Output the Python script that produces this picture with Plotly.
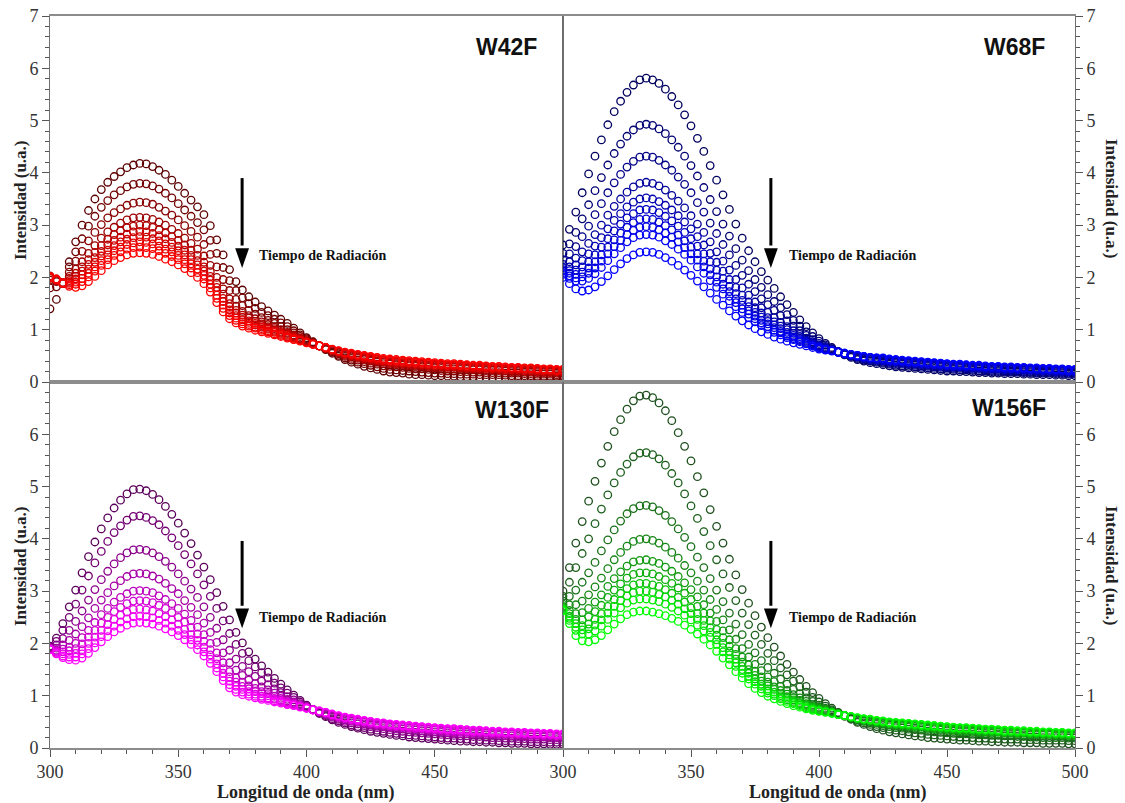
import plotly.graph_objects as go

# Emission wavelength grid (nm)
WAVELENGTH_NM = [
    300, 302.5, 305, 307.5, 310, 312.5, 315, 317.5, 320, 322.5,
    325, 327.5, 330, 332.5, 335, 337.5, 340, 342.5, 345, 347.5,
    350, 352.5, 355, 357.5, 360, 362.5, 365, 367.5, 370, 372.5,
    375, 377.5, 380, 382.5, 385, 387.5, 390, 392.5, 395, 397.5,
    400, 402.5, 405, 407.5, 410, 412.5, 415, 417.5, 420, 422.5,
    425, 427.5, 430, 432.5, 435, 437.5, 440, 442.5, 445, 447.5,
    450, 452.5, 455, 457.5, 460, 462.5, 465, 467.5, 470, 472.5,
    475, 477.5, 480, 482.5, 485, 487.5, 490, 492.5, 495, 497.5, 500,
]

# Fluorescence intensity, in hundredths of u.a.; first row = start of irradiation
W42F = [
    [140,158,190,230,268,300,328,350,368,382, 393,402,410,415,418,417,412,405,397,386,
     374,361,348,335,320,299,272,243,215,192, 176,163,153,144,136,128,120,112,103,94,
     85,77,69,62,55,49,43,38,34,30, 27,24,21,19,18,17,15,14,14,13,
     12,12,11,11,10,10,10,9,9,9, 9,8,8,8,8,8,7,7,7,7,7],
    [180,182,190,220,249,274,298,317,334,347, 358,366,373,378,380,379,375,369,361,352,
     341,329,317,305,291,271,246,219,194,175, 161,150,141,133,127,120,113,106,98,90,
     83,76,69,63,57,51,46,42,38,35, 32,29,26,24,23,22,21,20,19,18,
     17,17,16,16,15,15,15,14,14,14, 14,13,12,12,12,12,11,11,11,11,11],
    [195,192,189,210,231,250,270,286,301,314, 324,331,338,342,344,343,340,334,327,319,
     310,299,288,277,263,244,220,196,175,158, 146,137,130,123,118,112,106,100,94,87,
     81,75,69,64,58,54,49,45,42,39, 36,34,31,30,29,28,26,25,25,24,
     23,22,21,21,20,20,19,19,18,18, 18,17,17,17,16,16,15,15,15,14,14],
    [198,194,189,202,216,230,246,261,275,287, 296,304,310,314,315,314,311,306,300,292,
     284,275,265,254,241,223,200,178,159,145, 135,127,121,115,110,105,100,95,90,84,
     79,74,69,64,60,56,51,48,45,43, 40,38,35,34,33,32,31,30,29,28,
     27,26,25,25,24,24,23,23,22,22, 22,21,20,20,19,19,18,18,18,17,17],
    [201,195,188,198,208,220,234,248,261,273, 282,289,295,298,300,299,296,291,285,278,
     271,262,252,242,229,211,189,168,150,137, 128,122,116,111,106,102,97,93,88,83,
     78,74,69,65,61,57,53,50,47,44, 42,40,38,36,35,34,33,32,31,30,
     29,29,28,28,27,26,25,25,24,23, 23,22,22,22,21,21,20,19,19,19,19],
    [203,197,190,194,202,212,225,238,250,262, 271,277,283,287,288,287,284,280,274,267,
     260,252,242,232,220,202,181,160,144,132, 124,117,112,108,103,99,95,91,86,82,
     77,73,69,65,61,57,54,51,48,46, 44,41,39,38,37,36,35,34,33,32,
     31,30,29,29,28,27,27,26,26,25, 25,24,23,23,22,22,21,21,21,20,20],
    [199,195,188,191,197,205,216,229,241,252, 261,268,273,276,278,277,274,270,264,258,
     251,243,234,224,212,195,174,154,138,127, 119,114,109,105,101,97,93,89,85,81,
     77,73,69,65,62,58,54,52,50,47, 45,43,41,39,38,37,36,35,34,33,
     32,32,31,31,30,29,28,28,27,26, 26,25,24,24,24,24,23,22,22,21,21],
    [202,197,189,189,191,198,208,220,232,243, 251,258,263,266,268,267,264,260,254,249,
     242,234,226,216,204,187,166,147,132,122, 115,110,105,102,98,95,91,87,84,80,
     76,73,69,66,62,59,55,53,51,48, 46,44,42,41,40,39,38,37,36,35,
     34,33,32,32,31,30,29,29,28,27, 27,26,26,26,25,25,24,23,23,22,22],
    [201,196,190,186,187,192,201,212,223,234, 242,249,254,257,258,257,255,251,246,240,
     234,226,218,209,197,180,160,141,127,118, 111,107,103,99,96,92,89,86,82,79,
     76,72,69,66,62,59,56,54,52,50, 48,46,43,42,41,40,39,38,37,36,
     35,34,33,33,32,32,31,31,30,29, 29,28,27,27,26,26,25,24,24,23,23],
    [200,196,189,183,181,184,192,202,213,224, 232,238,243,246,247,246,244,240,235,230,
     224,217,209,200,188,172,152,134,121,113, 107,103,99,96,93,90,87,84,81,78,
     75,72,69,66,63,60,57,55,53,51, 49,47,45,44,43,42,41,40,39,38,
     37,36,35,35,34,33,32,32,31,30, 30,29,28,28,27,27,26,25,25,24,24],
]

W68F = [
    [262,292,325,362,398,432,463,492,517,537, 554,568,578,581,578,571,560,546,530,511,
     490,466,441,414,386,358,330,302,275,251, 230,211,195,179,163,148,133,119,106,94,
     83,74,66,58,52,47,43,40,37,35, 33,31,29,28,27,26,25,24,23,22,
     21,21,20,20,19,18,18,17,17,16, 16,16,15,15,14,14,14,13,13,12,12],
    [246,264,286,312,339,366,391,415,437,455, 470,482,491,493,491,484,475,463,449,432,
     414,394,372,349,326,302,279,255,233,213, 196,181,167,154,142,129,118,107,96,87,
     78,71,64,58,53,49,45,42,40,38, 36,34,32,31,30,29,28,27,26,25,
     24,24,23,23,22,21,21,20,20,19, 19,19,18,18,17,17,17,16,16,15,15],
    [234,245,259,278,298,320,341,362,381,397, 411,422,430,432,430,424,415,405,392,378,
     362,343,325,304,284,263,243,223,204,187, 173,159,148,137,127,117,107,98,89,81,
     74,68,63,58,53,50,47,44,41,40, 38,36,35,34,33,32,31,30,29,28,
     27,26,26,25,24,24,23,22,22,21, 21,21,20,20,19,19,19,18,18,17,17],
    [225,230,237,249,265,282,300,319,336,350, 363,373,380,382,380,375,367,357,346,333,
     318,302,286,268,249,231,214,196,180,166, 153,142,133,123,114,106,98,91,84,77,
     71,66,62,57,54,51,48,45,43,42, 40,38,37,36,35,34,33,32,31,30,
     29,28,28,27,26,26,25,24,24,23, 23,23,22,22,21,21,21,20,20,19,19],
    [219,220,224,232,245,260,276,293,309,322, 335,344,350,352,350,345,338,329,318,306,
     293,278,262,246,229,212,196,181,166,153, 142,132,123,115,107,100,93,87,80,75,
     69,65,61,57,54,51,49,46,44,43, 41,39,38,37,36,35,34,33,32,31,
     30,29,29,28,27,27,26,25,25,24, 24,24,23,23,22,22,22,21,21,20,20],
    [215,213,214,220,230,243,258,274,289,302, 314,322,329,330,329,324,317,308,298,286,
     274,260,245,230,214,198,183,169,156,144, 133,124,116,109,102,95,89,83,78,73,
     68,64,61,57,54,52,49,47,45,43, 42,40,39,38,37,36,35,34,33,32,
     31,30,30,29,28,28,27,26,26,25, 25,24,24,23,23,22,22,21,21,20,20],
    [212,208,206,210,218,230,243,258,272,285, 296,305,311,312,311,306,299,291,281,270,
     258,245,231,216,201,187,173,159,147,136, 126,118,111,104,97,91,86,81,76,71,
     67,63,60,57,54,52,49,47,45,44, 43,41,40,39,38,37,36,35,34,33,
     32,31,31,30,29,29,28,27,27,26, 26,25,25,24,24,23,23,22,22,21,21],
    [209,203,199,201,208,218,231,245,259,271, 282,290,296,297,296,291,285,277,268,257,
     245,233,220,205,191,178,164,152,140,130, 121,113,106,99,94,88,83,79,74,70,
     66,63,60,57,55,52,50,48,46,45, 44,42,41,40,39,38,37,36,35,34,
     33,32,32,31,30,30,29,28,28,27, 27,26,26,25,25,24,24,23,23,22,22],
    [206,198,193,193,198,207,219,232,245,257, 268,276,281,282,281,277,270,263,254,244,
     233,220,208,194,181,168,155,144,133,123, 115,108,101,95,90,85,81,77,73,69,
     65,62,60,57,55,53,51,49,47,46, 45,43,42,41,40,39,38,37,36,35,
     34,33,33,32,31,31,30,29,29,28, 28,27,27,26,26,25,25,24,24,23,23],
    [200,188,178,174,176,182,192,203,215,226, 236,243,248,249,248,244,238,231,223,214,
     204,193,182,170,158,147,136,126,117,109, 102,96,91,86,82,78,75,72,69,66,
     63,61,59,57,55,53,51,49,47,46, 46,44,43,42,41,40,39,38,37,36,
     35,34,34,33,32,32,31,30,30,29, 29,28,28,27,27,26,26,25,25,24,24],
]

W130F = [
    [195,210,238,270,302,335,366,394,419,440, 459,474,486,494,495,492,485,475,462,447,
     430,411,391,369,346,322,297,271,245,221, 201,184,170,157,145,133,122,111,101,91,
     82,74,66,60,54,49,45,41,38,35, 32,30,28,26,24,23,21,20,19,18,
     17,16,15,14,13,13,12,12,11,11, 10,10,9,9,9,8,8,8,7,7,7],
    [194,204,225,250,275,302,329,354,376,395, 412,425,436,443,444,441,435,427,415,402,
     387,370,352,333,312,290,267,243,219,198, 181,167,155,144,134,124,115,105,97,88,
     81,74,67,62,56,52,48,44,41,39, 36,34,32,30,28,27,25,24,23,22,
     21,20,19,19,18,17,16,16,15,15, 14,14,13,13,13,12,12,12,11,11,11],
    [192,197,209,225,242,262,283,303,322,338, 352,364,373,379,380,378,373,366,357,346,
     333,319,304,288,270,250,229,207,187,170, 156,146,137,128,121,113,106,98,92,85,
     79,74,68,64,59,55,51,48,46,43, 41,39,37,35,33,32,31,30,29,28,
     27,26,25,24,23,23,22,22,21,20, 20,19,19,18,18,17,17,17,16,16,16],
    [191,191,197,206,218,232,249,267,283,297, 310,320,328,333,334,333,329,323,315,305,
     295,282,269,255,239,221,202,182,163,149, 139,130,123,117,111,105,99,93,88,83,
     78,73,69,65,61,57,54,51,49,46, 44,42,41,39,37,36,35,34,33,32,
     31,30,29,28,27,27,26,26,25,24, 24,23,23,22,22,21,21,21,20,20,20],
    [190,187,189,193,200,211,225,240,255,267, 279,288,295,300,301,300,297,291,284,276,
     267,256,244,231,217,200,182,163,146,134, 126,119,114,108,104,99,95,90,86,81,
     77,73,70,66,62,59,56,53,51,49, 46,44,43,41,40,39,38,37,36,35,
     34,33,32,31,30,30,29,29,28,27, 27,26,26,25,25,24,24,23,23,22,22],
    [189,185,184,186,190,199,212,225,239,250, 261,269,276,281,282,281,278,273,267,259,
     250,241,230,218,204,188,171,152,136,126, 118,113,108,104,100,95,92,88,84,80,
     77,73,70,67,63,60,57,54,52,50, 48,46,45,43,42,41,39,38,37,36,
     35,34,33,33,32,31,30,30,29,29, 28,28,27,27,27,26,26,25,25,24,24],
    [189,183,180,179,181,188,200,212,225,236, 246,254,260,265,266,264,262,257,251,245,
     237,227,217,206,193,178,161,143,128,118, 112,108,103,99,96,93,90,86,83,79,
     77,73,70,67,64,61,58,55,53,51, 49,47,46,44,43,42,41,40,39,38,
     37,36,35,35,34,33,32,32,31,30, 30,29,29,28,28,27,27,26,26,25,25],
    [188,181,176,174,174,180,190,201,213,224, 233,241,247,251,252,251,249,244,239,233,
     225,217,207,197,184,170,153,136,121,112, 107,103,99,96,94,90,88,84,82,79,
     76,73,71,68,64,61,58,56,54,52, 50,48,47,45,44,43,42,41,40,39,
     38,37,36,36,35,34,33,33,32,31, 31,30,30,29,29,28,28,27,27,26,26],
    [188,180,173,169,168,172,181,192,203,213, 222,229,235,239,240,239,237,233,228,222,
     215,207,198,188,176,162,146,129,115,107, 102,99,96,93,91,88,86,83,81,78,
     76,73,71,68,65,62,59,57,55,53, 51,49,48,46,45,44,43,42,41,40,
     39,38,37,37,36,35,34,34,33,32, 32,31,31,30,30,29,29,28,28,27,27],
]

W156F = [
    [300,345,392,433,472,510,545,577,605,628, 648,664,673,675,670,660,645,626,603,577,
     549,519,488,456,424,392,361,331,303,277, 253,231,211,193,176,160,145,131,118,106,
     95,85,76,68,61,55,49,45,41,37, 34,31,29,27,25,23,22,20,19,18,
     17,16,15,15,14,13,13,12,12,11, 11,11,10,10,10,9,9,9,9,8,8],
    [290,317,345,372,400,429,457,484,507,527, 543,557,564,565,561,553,541,525,507,486,
     463,439,414,387,360,333,307,282,258,236, 216,198,181,167,153,140,128,117,107,97,
     88,80,73,67,61,56,51,48,45,41, 39,36,34,33,31,29,28,26,25,24,
     23,22,21,21,20,19,19,18,18,17, 17,17,16,16,16,15,15,15,15,14,14],
    [281,290,302,317,335,355,377,398,417,434, 448,458,463,464,461,454,445,433,419,403,
     385,365,345,324,302,280,258,237,217,198, 182,167,154,143,132,122,112,104,96,89,
     82,76,71,66,62,58,54,51,48,45, 43,41,39,38,36,35,34,32,31,30,
     29,28,27,27,26,25,25,24,24,23, 23,22,22,21,21,20,20,20,20,19,19],
    [275,274,274,281,293,308,325,343,360,374, 386,395,399,400,397,392,384,374,363,349,
     335,319,302,284,265,245,226,208,190,174, 160,148,136,127,118,110,102,96,89,83,
     78,74,69,65,62,58,55,52,50,48, 46,44,42,41,40,38,37,36,35,34,
     33,32,31,31,30,29,28,28,27,26, 26,26,25,25,25,24,24,23,23,22,22],
    [271,263,257,259,267,279,293,309,324,337, 348,356,359,360,357,353,346,338,328,316,
     303,289,274,258,242,224,207,190,174,159, 147,136,126,117,110,103,96,91,85,80,
     76,72,68,65,62,59,56,53,52,49, 48,45,44,43,42,41,40,38,37,36,
     35,34,33,33,32,31,31,30,30,29, 29,28,28,27,27,26,26,25,25,24,24],
    [269,257,246,245,251,261,273,288,302,314, 325,332,335,335,333,328,322,315,306,296,
     284,271,258,243,227,211,195,179,164,150, 139,128,119,112,104,98,92,87,83,78,
     74,71,68,65,62,59,56,54,53,50, 49,47,45,44,43,42,41,40,39,38,
     37,36,35,35,34,33,32,32,31,30, 30,29,29,28,28,27,27,26,26,25,25],
    [267,252,238,234,237,246,257,271,284,296, 305,312,315,315,312,309,303,296,288,279,
     268,257,244,230,216,200,185,170,156,143, 132,122,113,107,100,95,89,85,81,76,
     73,70,67,65,62,59,57,55,53,51, 50,48,46,45,44,43,42,41,40,39,
     38,37,36,36,35,34,33,33,32,31, 31,30,30,29,29,28,28,27,27,26,26],
    [265,248,231,226,228,235,245,258,271,282, 291,297,300,300,298,294,289,283,275,266,
     257,246,234,221,207,192,178,163,150,137, 127,118,109,103,97,92,87,83,79,75,
     72,70,67,64,62,60,57,55,54,52, 50,48,47,46,45,44,43,42,41,40,
     39,38,37,37,36,35,34,34,33,32, 32,31,31,30,30,29,29,28,28,27,27],
    [264,244,225,218,218,224,233,246,258,268, 277,283,285,285,283,280,275,269,262,254,
     245,235,224,212,198,184,170,156,143,132, 122,113,105,100,94,89,85,81,77,74,
     71,69,67,64,62,60,57,55,54,52, 51,49,48,47,46,45,44,43,42,41,
     40,39,38,38,37,36,35,35,34,33, 33,32,32,31,31,30,30,29,29,28,28],
    [262,238,215,205,203,207,215,226,237,247, 255,260,262,262,260,257,253,248,242,235,
     227,218,208,197,185,172,159,146,134,123, 114,106,99,94,89,85,81,78,75,72,
     70,68,66,64,62,60,58,56,55,53, 52,50,49,48,47,46,45,44,43,42,
     41,40,39,39,38,37,36,36,35,34, 34,33,33,32,32,31,31,30,30,29,29],
]

# Trace colours, darkest = first spectrum
W42F_COLORS = ["#5c0000", "#720000", "#880000", "#9c0000", "#b00000",
               "#c40000", "#d60000", "#e60000", "#f40000", "#ff0000"]
W68F_COLORS = ["#000060", "#000074", "#000088", "#00009c", "#0000b0",
               "#0000c2", "#0000d4", "#0000e4", "#0000f2", "#0000ff"]
W130F_COLORS = ["#5a005a", "#730073", "#8c008c", "#a500a5", "#bd00bd",
                "#d200d2", "#e400e4", "#f200f2", "#ff00ff"]
W156F_COLORS = ["#1e501e", "#1c601c", "#197219", "#168616", "#129a12",
                "#0eae0e", "#0ac20a", "#06d606", "#03ea03", "#00ff00"]

PANELS = [
    ("W42F", W42F, W42F_COLORS, "x", "y"),
    ("W68F", W68F, W68F_COLORS, "x2", "y2"),
    ("W130F", W130F, W130F_COLORS, "x3", "y3"),
    ("W156F", W156F, W156F_COLORS, "x4", "y4"),
]

for name, curves, colors, _, _ in PANELS:
    assert len(curves) == len(colors), name
    for row in curves:
        assert len(row) == len(WAVELENGTH_NM), (name, len(row))

W, H = 1125, 803


def px(x):
    return x / W


def py(y):
    return 1 - y / H


fig = go.Figure()
for name, curves, colors, xa, ya in PANELS:
    for vals, col in zip(curves, colors):
        fig.add_trace(go.Scatter(
            x=WAVELENGTH_NM, y=[v / 100 for v in vals], mode="markers",
            xaxis=xa, yaxis=ya, hoverinfo="skip", showlegend=False,
            marker=dict(symbol="circle-open", size=7.5, color=col,
                        line=dict(width=1.3, color=col)),
        ))

SERIF = "Liberation Serif, Times New Roman, serif"
SANS = "Liberation Sans, Arial, sans-serif"
TICK_FONT = dict(family=SERIF, size=18, color="#333333")
TICK_COL = "#555555"

X_TICKS = [300, 350, 400, 450, 500]
Y_TICKS = [0, 1, 2, 3, 4, 5, 6, 7]


def x_axis(domain, anchor, labels):
    ax = dict(domain=domain, anchor=anchor, range=[300, 500], showgrid=False,
              zeroline=False, showline=True, linecolor="#8c8c8c", linewidth=1.5,
              mirror=True, fixedrange=True, automargin=False)
    if labels is None:
        ax.update(ticks="", showticklabels=False)
    else:
        ax.update(ticks="outside", ticklen=7, tickwidth=1, tickcolor=TICK_COL,
                  tickmode="array", tickvals=X_TICKS, ticktext=labels,
                  tickfont=TICK_FONT,
                  minor=dict(tickmode="linear", tick0=300, dtick=10,
                             ticks="outside", ticklen=4, tickcolor=TICK_COL))
    return ax


def y_axis(domain, anchor, side, labels):
    return dict(domain=domain, anchor=anchor, side=side, range=[0, 7],
                showgrid=False, zeroline=False, showline=True,
                linecolor="#6e6e6e", linewidth=1, mirror=True, fixedrange=True,
                automargin=False,
                ticks="outside", ticklen=7, tickwidth=1, tickcolor=TICK_COL,
                tickmode="array", tickvals=Y_TICKS, ticktext=labels,
                tickfont=TICK_FONT,
                minor=dict(tickmode="linear", tick0=0, dtick=0.2,
                           ticks="outside", ticklen=4, tickcolor=TICK_COL))


XL = [px(50), px(563)]
XR = [px(563), px(1075)]
YT = [py(382), py(16)]
YB = [py(748), py(382)]

full_y = [str(t) for t in Y_TICKS]
low_y = full_y[:-1] + [""]

fig.update_layout(
    width=W, height=H, autosize=False,
    margin=dict(l=0, r=0, t=0, b=0, pad=0),
    paper_bgcolor="white", plot_bgcolor="white",
    showlegend=False,
    xaxis=x_axis(XL, "y", None),
    yaxis=y_axis(YT, "x", "left", full_y),
    xaxis2=x_axis(XR, "y2", None),
    yaxis2=y_axis(YT, "x2", "right", full_y),
    xaxis3=x_axis(XL, "y3", ["300", "350", "400", "450", ""]),
    yaxis3=y_axis(YB, "x3", "left", low_y),
    xaxis4=x_axis(XR, "y4", ["300", "350", "400", "450", "500"]),
    yaxis4=y_axis(YB, "x4", "right", low_y),
)

annotations = []

# panel names
for label, cx, cy in [("W42F", 506, 47), ("W68F", 1014, 47),
                      ("W130F", 512, 410), ("W156F", 1009, 408)]:
    annotations.append(dict(
        text=f"<b>{label}</b>", x=px(cx), y=py(cy), xref="paper", yref="paper",
        xanchor="center", yanchor="middle", showarrow=False,
        font=dict(family=SANS, size=23, color="#111111")))

# axis titles
AXIS_TITLE_FONT = dict(family=SERIF, size=17, color="#222222")
for cx, cy, ang in [(20, 200, -90), (20, 566, -90), (1112, 199, 90), (1112, 566, 90)]:
    annotations.append(dict(
        text="<b>Intensidad (u.a.)</b>", x=px(cx), y=py(cy), xref="paper",
        yref="paper", xanchor="center", yanchor="middle", textangle=ang,
        showarrow=False, font=AXIS_TITLE_FONT))
for cx in (306, 838):
    annotations.append(dict(
        text="<b>Longitud de onda (nm)</b>", x=px(cx), y=py(792), xref="paper",
        yref="paper", xanchor="center", yanchor="middle", showarrow=False,
        font=dict(family=SERIF, size=18, color="#222222")))

# irradiation-time labels
for lx, ly in [(257, 256), (787, 256), (257, 617), (787, 617)]:
    annotations.append(dict(
        text="<b>Tiempo de Radiación</b>", x=px(lx), y=py(ly), xref="paper",
        yref="paper", xanchor="left", yanchor="middle", showarrow=False,
        font=dict(family=SERIF, size=14, color="#111111")))

fig.update_layout(annotations=annotations)

# downward arrows (shaft + filled head), placed in each panel's data space
ARROWS = [
    ("x", "y", 374.9, 3.90, 2.18),
    ("x2", "y2", 381.2, 3.90, 2.18),
    ("x3", "y3", 374.9, 3.96, 2.29),
    ("x4", "y4", 381.2, 3.96, 2.29),
]
HEAD_LEN = 0.38   # intensity units
HEAD_HALF = 2.7   # nm
shapes = []
for xr, yr, ax_x, y_top, y_tip in ARROWS:
    y_base = y_tip + HEAD_LEN
    shapes.append(dict(type="line", xref=xr, yref=yr, x0=ax_x, x1=ax_x,
                       y0=y_top, y1=y_base + 0.05,
                       line=dict(color="black", width=3)))
    shapes.append(dict(type="path", xref=xr, yref=yr,
                       path=(f"M {ax_x - HEAD_HALF},{y_base} L {ax_x + HEAD_HALF},{y_base} "
                             f"L {ax_x},{y_tip} Z"),
                       fillcolor="black", line=dict(width=0)))
fig.update_layout(shapes=shapes)

fig.write_html("out.html", config={"displayModeBar": False})
